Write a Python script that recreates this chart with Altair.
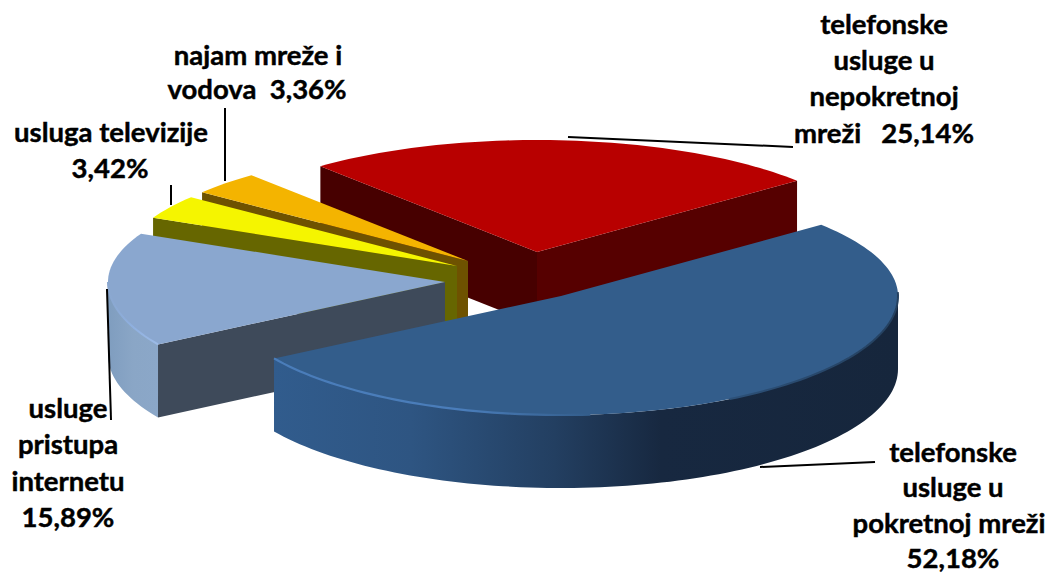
import math
import altair as alt

# ---- values (order: counter-clockwise from the red slice's right edge)
names = ["telefonske usluge u nepokretnoj mreži", "najam mreže i vodova", "usluga televizije",
         "usluge pristupa internetu", "telefonske usluge u pokretnoj mreži"]
shares = [25.14, 3.36, 3.42, 15.89, 52.18]

# ---- pie geometry (layout, not data)
START = 39.5
RX, RY_FAR, RY_NEAR, DEPTH = 337.0, 112.0, 119.0, 73.0
APEX = [(537, 252), (468, 261), (457, 266), (445, 282), (561, 296)]
OFF = 8  # page margin


def angles():
    a = START
    out = []
    for s in shares:
        b = a + s * 3.6
        out.append((a, b))
        a = b
    return out


def rim(i, deg, drop=0.0):
    t = math.radians(deg)
    u, v = math.cos(t), math.sin(t)
    ry = RY_FAR if v > 0 else RY_NEAR
    return [APEX[i][0] + RX * u - OFF, APEX[i][1] - ry * v + drop - OFF]


def arc(i, a, b, drop=0.0):
    n = max(2, int(abs(b - a) / 1.5))
    return [rim(i, a + (b - a) * k / n, drop) for k in range(n + 1)]


def ap(i, drop=0.0):
    return [APEX[i][0] - OFF, APEX[i][1] + drop - OFF]


def grad(stops):
    return alt.LinearGradient(gradient="linear", x1=0, y1=0, x2=1, y2=0,
                              stops=[alt.GradientStop(offset=o, color=c) for o, c in stops])


def poly(pts, fill):
    ring = pts + [pts[0]]
    f = {"type": "Feature", "properties": {}, "geometry": {"type": "Polygon", "coordinates": [ring]}}
    return alt.Chart(alt.Data(values=[f])).mark_geoshape(fill=fill, stroke=None, strokeWidth=0)


def stroke_line(pts, stroke, w):
    f = {"type": "Feature", "properties": {}, "geometry": {"type": "LineString", "coordinates": pts}}
    return alt.Chart(alt.Data(values=[f])).mark_geoshape(filled=False, fill=None, stroke=stroke, strokeWidth=w)


def cut(i, deg, fill):
    p, q = ap(i), rim(i, deg)
    return poly([p, q, rim(i, deg, DEPTH), ap(i, DEPTH)], fill)


def top(i, fill):
    a, b = angles()[i]
    return poly([ap(i)] + arc(i, a, b), fill)


A = angles()
layers = []

# red (back)
layers += [cut(0, A[0][1], "#470000"), cut(0, A[0][0], "#560000"), top(0, "#B80000")]
# orange
layers += [cut(1, A[1][1], "#6E5200"), top(1, "#F4B400")]
# yellow
layers += [cut(2, A[2][1], "#666600"), top(2, "#F5F500")]
# light blue
a3, b3 = A[3]
layers += [
    poly(arc(3, 180, b3) + arc(3, b3, 180, DEPTH),
         grad([(0, "#7F9DBF"), (0.5, "#8AA6C6"), (1, "#8BA7C8")])),
    cut(3, b3, "#3E4A5A"),
    top(3, "#8AA7CF"),
    stroke_line(arc(3, 180, b3), grad([(0, "#8AA7CF"), (0.5, "#8FB0E0"), (1, "#9DBBE6")]), 2),
]
# blue (front)
a4, b4 = A[4]
layers += [
    poly(arc(4, a4, 360) + arc(4, 360, a4, DEPTH),
         grad([(0, "#315C8D"), (0.22, "#2E5582"), (0.45, "#233F61"), (0.62, "#172840"), (1, "#16263C")])),
    top(4, "#335D8B"),
    stroke_line(arc(4, a4, 275), grad([(0, "#4A7DBA"), (0.6, "#4A7DBA"), (1, "#335D8B")]), 2.2),
    stroke_line(arc(4, 300, 362), grad([(0, "#2C5078"), (1, "#24405F")]), 2),
]

# ---- leader lines
leaders = [
    {"x": 568, "y": 137, "x2": 793, "y2": 147},
    {"x": 760, "y": 467, "x2": 875, "y2": 462},
    {"x": 107, "y": 289, "x2": 111, "y2": 420},
    {"x": 171, "y": 185, "x2": 171, "y2": 205},
    {"x": 225, "y": 108, "x2": 225, "y2": 181},
]
for r in leaders:
    for k in r:
        r[k] -= OFF
layers.append(
    alt.Chart(alt.Data(values=leaders)).mark_rule(color="#000000", strokeWidth=2).encode(
        x=alt.X("x:Q", scale=None), y=alt.Y("y:Q", scale=None),
        x2="x2:Q", y2="y2:Q")
)

# ---- labels
label_lines = [
    ("telefonske", 884, 34), ("usluge u", 884, 70), ("nepokretnoj", 884, 106),
    ("mreži\u00a0\u00a0\u00a025,14%", 884, 143),
    ("telefonske", 953, 462), ("usluge u", 953, 497), ("pokretnoj mreži", 949, 533), ("52,18%", 953, 568),
    ("najam mreže i", 258, 65), ("vodova\u00a0\u00a03,36%", 257, 99),
    ("usluga televizije", 111, 142), ("3,42%", 110, 178),
    ("usluge", 68, 418), ("pristupa", 68, 454), ("internetu", 68, 491), ("15,89%", 68, 527),
]
label_rows = [{"t": t, "x": x - OFF, "y": y - OFF} for t, x, y in label_lines]
layers.append(
    alt.Chart(alt.Data(values=label_rows)).mark_text(
        font="Lato", fontWeight="bold", fontSize=27.5, color="#000000",
        stroke="#000000", strokeWidth=0.45,
        align="center", baseline="alphabetic").encode(
        x=alt.X("x:Q", scale=None), y=alt.Y("y:Q", scale=None), text="t:N")
)

chart = alt.layer(*layers).project(type="identity", scale=1, translate=[0, 0]).properties(
    width=1038, height=565, padding=0, autosize=alt.AutoSizeParams(type="none"),
    background="#ffffff"
).configure_view(stroke=None)

chart.save("out.html", embed_options={"renderer": "svg", "actions": False})
